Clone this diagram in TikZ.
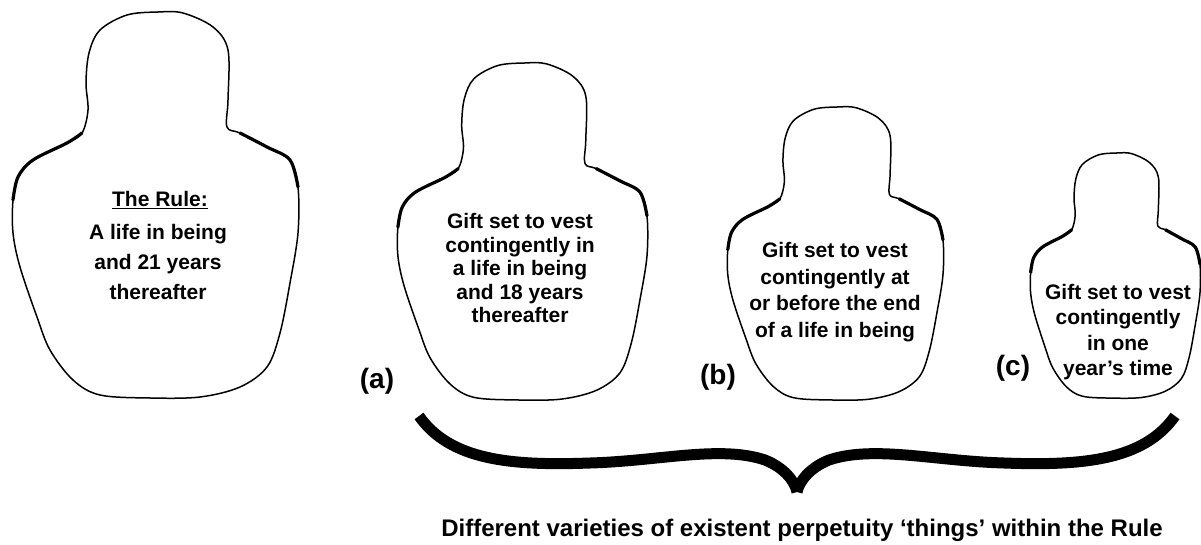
\documentclass[tikz,border=0pt]{standalone}
\usepackage{fontspec}
\setmainfont{Liberation Sans}
\usepackage{tikz}
\begin{document}
\begin{tikzpicture}[x=1pt,y=-1pt,
  outline/.style={line width=1.5pt,line join=round},
  shoulder/.style={line width=3.2pt,line cap=round},
  dolltext/.style={align=center,font=\bfseries\fontsize{21}{#1}\selectfont},
  dolltext/.default=24,
  tag/.style={font=\bfseries\fontsize{28}{30}\selectfont},
  bracestroke/.style={line width=11pt}]
\useasboundingbox (0,0) rectangle (1201,545);
% the four dolls, one outline scaled down each time
\foreach \cx/\ty/\sx/\sy in {155/12/1/1, 522/63/.874/.873, 835/107/.755/.759, 1115/153/.594/.635}{
  \begin{scope}[shift={(\cx,\ty)},xscale=\sx,yscale=\sy]
    \draw[outline] plot[smooth cycle,tension=0.55] coordinates {
      (3,0) (28,1) (58,15) (73,38) (73,88) (72,115) (85,121) (112,135)
      (135,148) (143,175) (143,221) (135,271) (125,321) (112,355) (85,375)
      (45,385) (-5,386) (-55,383) (-82,368) (-105,338) (-118,305) (-135,255)
      (-142,221) (-142,188) (-137,165) (-122,148) (-88,131) (-73,121)
      (-67,98) (-69,71) (-66,41) (-55,18) (-28,3)};
    \draw[shoulder] plot[smooth,tension=0.55] coordinates {
      (-73,121) (-88,131) (-122,148) (-137,165) (-142,188)};
    \draw[shoulder] plot[smooth,tension=0.55] coordinates {
      (85,121) (112,135) (135,148) (143,175)};
  \end{scope}
}
% texts inside the dolls
\node (title) [font=\bfseries\fontsize{21}{24}\selectfont] at (160,200) {\underline{The Rule:}};
\node (rule) [dolltext=30] at (158,262) {A life in being\\and 21 years\\thereafter};
\node (d1) [dolltext=23.5] at (520,268) {Gift set to vest\\contingently in\\a life in being\\and 18 years\\thereafter};
\node (d2) [dolltext=26.5] at (835,292) {Gift set to vest\\contingently at\\or before the end\\of a life in being};
\node (d3) [dolltext=25.5] at (1118,332) {Gift set to vest\\contingently\\in one\\year’s time};
\node (la) [tag] at (377,381) {(a)};
\node (lb) [tag] at (718,377) {(b)};
\node (lc) [tag] at (1013,368) {(c)};
% brace and caption
\draw[bracestroke] (419,416) .. controls (450,460) and (510,466) .. (590,463)
  .. controls (660,461) and (720,445) .. (765,460)
  .. controls (785,468) and (795,482) .. (797,492);
\draw[bracestroke] (1175,416) .. controls (1144,460) and (1084,466) .. (1004,463)
  .. controls (934,461) and (874,445) .. (829,460)
  .. controls (809,468) and (799,482) .. (797,492);
\node (cap) [font=\bfseries\fontsize{24}{28}\selectfont] at (802,530) {Different varieties of existent perpetuity ‘things’ within the Rule};
\end{tikzpicture}
\end{document}
